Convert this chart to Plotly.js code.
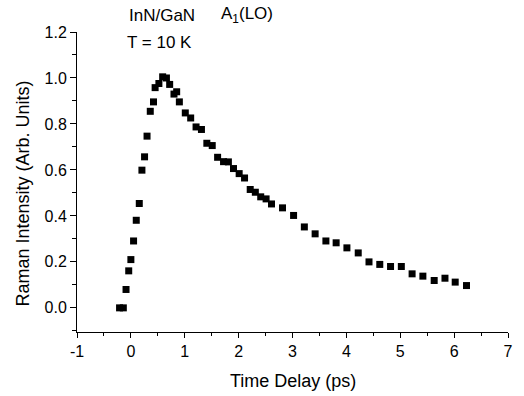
<!DOCTYPE html>
<html>
<head>
<meta charset="utf-8">
<script src="https://cdn.plot.ly/plotly-3.0.1.min.js"></script>
<style>html,body{margin:0;padding:0;background:#fff;}#chart{width:524px;height:396px;}</style>
</head>
<body>
<div id="chart"></div>
<script>
const timeDelay = [-0.21, -0.14, -0.09, -0.04, 0.0, 0.05, 0.10, 0.156, 0.205, 0.254,
  0.30, 0.36, 0.42, 0.45, 0.52, 0.59, 0.66, 0.72, 0.80, 0.85,
  0.90, 1.01, 1.11, 1.21, 1.31, 1.41, 1.51, 1.61, 1.72, 1.81,
  1.905, 2.01, 2.11, 2.215, 2.31, 2.41, 2.51, 2.61, 2.815, 3.02,
  3.22, 3.42, 3.62, 3.81, 4.01, 4.22, 4.42, 4.62, 4.82, 5.02,
  5.22, 5.42, 5.63, 5.83, 6.02, 6.23];
const intensity = [0, 0, 0.08, 0.161, 0.21, 0.291, 0.381, 0.454, 0.599, 0.657,
  0.747, 0.855, 0.896, 0.958, 0.976, 1.005, 1.0, 0.972, 0.93, 0.94,
  0.896, 0.848, 0.826, 0.787, 0.776, 0.716, 0.706, 0.655, 0.636, 0.635,
  0.606, 0.584, 0.565, 0.515, 0.503, 0.483, 0.474, 0.452, 0.435, 0.402,
  0.352, 0.322, 0.291, 0.283, 0.261, 0.239, 0.2, 0.189, 0.18, 0.18,
  0.148, 0.138, 0.119, 0.129, 0.112, 0.097];
const xTickVals = [-1, 0, 1, 2, 3, 4, 5, 6, 7];
const xTickText = ["-1", "0", "1", "2", "3", "4", "5", "6", "7"];
const sampleLabel = "InN/GaN";
const modeLabel = "A<sub>1</sub>(LO)";
const tempLabel = "T = 10 K";
const xTitle = "Time Delay (ps)";
const yTitle = "Raman Intensity (Arb. Units)";

const font = "Liberation Sans, Arial, sans-serif";
const trace = {
  x: timeDelay, y: intensity, type: "scatter", mode: "markers",
  marker: {symbol: "square", size: 7, color: "#000"},
  hoverinfo: "skip"
};
const layout = {
  width: 524, height: 396,
  margin: {l: 77, r: 16, t: 32, b: 64},
  paper_bgcolor: "#fff", plot_bgcolor: "#fff",
  showlegend: false,
  font: {family: font, color: "#000", size: 16},
  xaxis: {
    range: [-1, 7], tickmode: "array", tickvals: xTickVals, ticktext: xTickText,
    showgrid: false, zeroline: false,
    showline: true, linecolor: "#000", linewidth: 1,
    ticks: "outside", ticklen: 5, tickcolor: "#000",
    tickfont: {family: font, size: 16},
    minor: {dtick: 0.5, ticks: "outside", ticklen: 3, tickcolor: "#000"}
  },
  yaxis: {
    range: [-0.105, 1.2], dtick: 0.2, tick0: 0, tickformat: ".1f",
    showgrid: false, zeroline: false,
    showline: true, linecolor: "#000", linewidth: 1,
    ticks: "outside", ticklen: 6, tickcolor: "#000",
    tickfont: {family: font, size: 16},
    minor: {dtick: 0.1, ticks: "outside", ticklen: 4, tickcolor: "#000"}
  },
  annotations: [
    {text: xTitle, xref: "paper", yref: "paper", x: 0.5, y: -0.162, xanchor: "center", yanchor: "middle", showarrow: false, font: {family: font, size: 18}},
    {text: yTitle, xref: "paper", yref: "paper", x: -0.125, y: 0.462, xanchor: "center", yanchor: "middle", textangle: -90, showarrow: false, font: {family: font, size: 18}},
    {text: sampleLabel, xref: "paper", yref: "paper", x: 0.116, y: 1.056, xanchor: "left", yanchor: "middle", showarrow: false, font: {family: font, size: 17}},
    {text: modeLabel, xref: "paper", yref: "paper", x: 0.394, y: 1.056, xanchor: "center", yanchor: "middle", showarrow: false, font: {family: font, size: 17}},
    {text: tempLabel, xref: "paper", yref: "paper", x: 0.112, y: 0.966, xanchor: "left", yanchor: "middle", showarrow: false, font: {family: font, size: 17}}
  ]
};
Plotly.newPlot("chart", [trace], layout, {displayModeBar: false, staticPlot: true});
</script>
</body>
</html>
